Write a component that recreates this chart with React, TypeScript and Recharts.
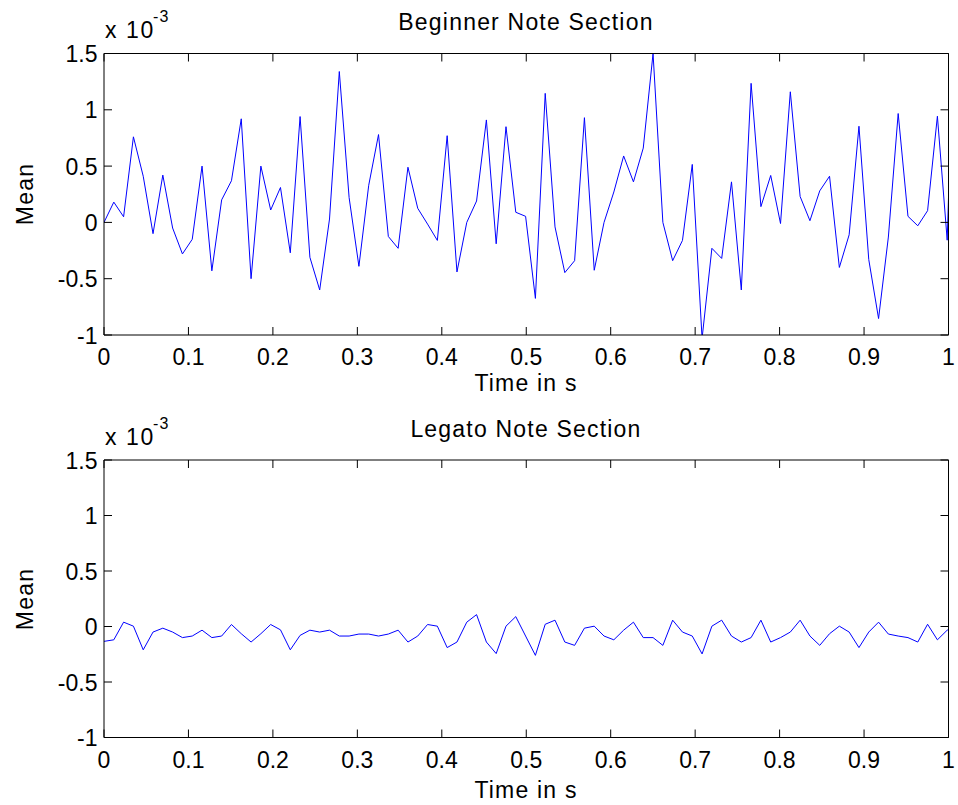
import { LineChart, Line, XAxis, YAxis } from 'recharts';

// frame hop: 512 samples at 44.1 kHz
const HOP = 512 / 44100;

// mean per frame, in units of 1e-3
const beginnerMean = [
  0, 0.18, 0.05, 0.76, 0.41, -0.1, 0.42, -0.05, -0.28, -0.15,
  0.5, -0.43, 0.2, 0.37, 0.92, -0.5, 0.5, 0.11, 0.31, -0.27,
  0.94, -0.31, -0.6, 0.03, 1.34, 0.22, -0.39, 0.33, 0.78, -0.125,
  -0.23, 0.49, 0.125, -0.015, -0.16, 0.77, -0.44, 0.0, 0.19, 0.91,
  -0.19, 0.85, 0.09, 0.054, -0.675, 1.146, -0.04, -0.446, -0.34, 0.93,
  -0.425, 0.0, 0.27, 0.59, 0.36, 0.66, 1.5, 0.0, -0.34, -0.16,
  0.515, -1.03, -0.23, -0.32, 0.36, -0.6, 1.235, 0.14, 0.417, -0.01,
  1.16, 0.23, 0.015, 0.28, 0.41, -0.4, -0.11, 0.854, -0.33, -0.854,
  -0.13, 0.967, 0.054, -0.03, 0.104, 0.943, -0.158, 2.7,
];

const legatoMean = [
  -0.134, -0.12, 0.039, 0.003, -0.21, -0.05, -0.015, -0.05, -0.1, -0.086,
  -0.033, -0.1, -0.086, 0.018, -0.065, -0.14, -0.065, 0.018, -0.03, -0.21,
  -0.08, -0.033, -0.05, -0.033, -0.086, -0.086, -0.068, -0.068, -0.086, -0.068,
  -0.033, -0.14, -0.086, 0.018, 0.003, -0.19, -0.14, 0.039, 0.107, -0.14,
  -0.244, 0.003, 0.089, -0.086, -0.26, 0.02, 0.057, -0.14, -0.17, -0.015,
  0.003, -0.086, -0.12, -0.033, 0.039, -0.1, -0.1, -0.17, 0.057, -0.05,
  -0.086, -0.247, 0.003, 0.057, -0.086, -0.14, -0.1, 0.057, -0.14, -0.1,
  -0.05, 0.057, -0.086, -0.17, -0.065, 0.003, -0.05, -0.19, -0.05, 0.039,
  -0.068, -0.086, -0.1, -0.14, 0.02, -0.12, -0.033, 0.0,
];

const xTicks = [0, 0.1, 0.2, 0.3, 0.4, 0.5, 0.6, 0.7, 0.8, 0.9, 1];
const yTicks = [-1, -0.5, 0, 0.5, 1, 1.5];

const FONT = '"Liberation Sans", Arial, Helvetica, sans-serif';
const FS = 23;
const TICK_LEN = 8;

function toRows(values: number[]) {
  return values.map((v, i) => ({ t: i * HOP, mean: v }));
}

function BottomTick({ x, y, payload }: any) {
  return (
    <g>
      <line x1={x} y1={y} x2={x} y2={y - TICK_LEN} stroke="#000" />
      <text x={x} y={y + 30} textAnchor="middle" fontFamily={FONT} fontSize={FS} fill="#000">
        {String(payload.value)}
      </text>
    </g>
  );
}

function TopTick({ x, y }: any) {
  return <line x1={x} y1={y} x2={x} y2={y + TICK_LEN} stroke="#000" />;
}

function LeftTick({ x, y, payload }: any) {
  return (
    <g>
      <line x1={x} y1={y} x2={x + TICK_LEN} y2={y} stroke="#000" />
      <text x={x - 6.5} y={y + 8.5} textAnchor="end" fontFamily={FONT} fontSize={FS} fill="#000">
        {String(payload.value)}
      </text>
    </g>
  );
}

function RightTick({ x, y }: any) {
  return <line x1={x} y1={y} x2={x - TICK_LEN} y2={y} stroke="#000" />;
}

// axes need a size of at least 1px or recharts skips drawing them
function Subplot({ values, height, top, bottom }: {
  values: number[]; height: number; top: number; bottom: number;
}) {
  return (
    <LineChart width={958} height={height} data={toRows(values)}
      margin={{ top: top - 1, right: 8.5, bottom: bottom - 1, left: 103 }}>
      <XAxis dataKey="t" type="number" domain={[0, 1]} allowDataOverflow ticks={xTicks}
        interval={0} height={1} tickSize={0} tickMargin={0} tick={<BottomTick />}
        axisLine={{ stroke: '#000' }} tickLine={false} />
      <XAxis xAxisId="top" orientation="top" dataKey="t" type="number" domain={[0, 1]}
        allowDataOverflow ticks={xTicks} interval={0} height={1} tickSize={0} tickMargin={0}
        tick={<TopTick />} axisLine={{ stroke: '#000' }} tickLine={false} />
      <YAxis type="number" domain={[-1, 1.5]} allowDataOverflow ticks={yTicks} interval={0}
        width={1} tickSize={0} tickMargin={0} tick={<LeftTick />}
        axisLine={{ stroke: '#000' }} tickLine={false} />
      <YAxis yAxisId="right" orientation="right" type="number" domain={[-1, 1.5]} allowDataOverflow
        ticks={yTicks} interval={0} width={1} tickSize={0} tickMargin={0} tick={<RightTick />}
        axisLine={{ stroke: '#000' }} tickLine={false} />
      <Line type="linear" dataKey="mean" stroke="#0000ff" strokeWidth={1} dot={false}
        activeDot={false} isAnimationActive={false} />
    </LineChart>
  );
}

function Labels() {
  const txt = { fontFamily: FONT, fontSize: FS, fill: '#000', letterSpacing: 1.2 };
  return (
    <svg width={958} height={805} style={{ position: 'absolute', left: 0, top: 0, pointerEvents: 'none' }}>
      {/* top subplot */}
      <text x={526} y={30} textAnchor="middle" {...txt}>Beginner Note Section</text>
      <text x={105} y={38} {...txt} letterSpacing={1.6}>x 10</text>
      <text x={153} y={22} {...txt} fontSize={16}>-3</text>
      <text x={526} y={391} textAnchor="middle" {...txt}>Time in s</text>
      <text x={33} y={194} textAnchor="middle" transform="rotate(-90 33 194)" {...txt}>Mean</text>
      {/* bottom subplot */}
      <text x={526} y={437} textAnchor="middle" {...txt}>Legato Note Section</text>
      <text x={105} y={445} {...txt} letterSpacing={1.6}>x 10</text>
      <text x={153} y={429} {...txt} fontSize={16}>-3</text>
      <text x={526} y={798} textAnchor="middle" {...txt}>Time in s</text>
      <text x={33} y={599} textAnchor="middle" transform="rotate(-90 33 599)" {...txt}>Mean</text>
    </svg>
  );
}

export default function App() {
  return (
    <div style={{ position: 'absolute', left: 0, top: 0, width: 958, height: 805, background: '#fff' }}>
      <div style={{ position: 'absolute', left: 0, top: 0 }}>
        <Subplot values={beginnerMean} height={400} top={53.5} bottom={65} />
      </div>
      <div style={{ position: 'absolute', left: 0, top: 400 }}>
        <Subplot values={legatoMean} height={405} top={60} bottom={67.5} />
      </div>
      <Labels />
    </div>
  );
}
